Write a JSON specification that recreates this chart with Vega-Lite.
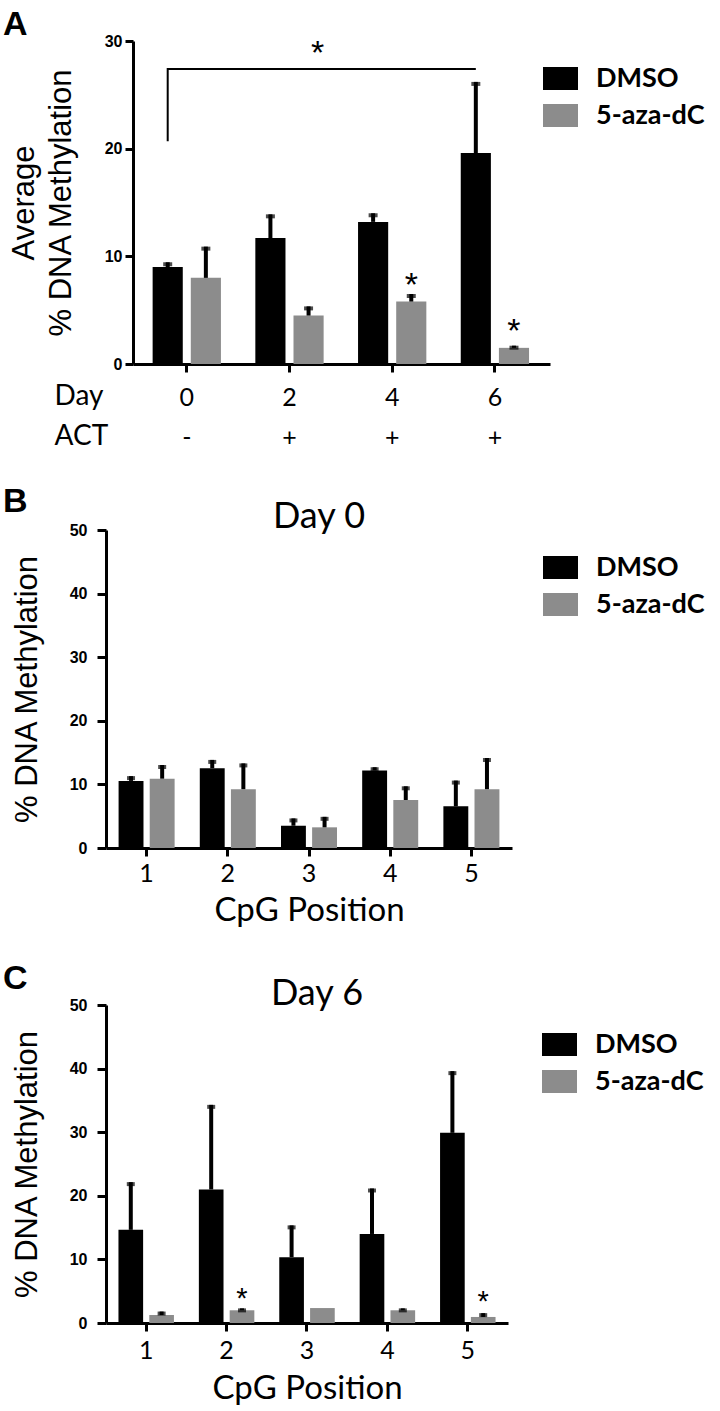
{
  "$schema": "https://vega.github.io/schema/vega-lite/v6.json",
  "padding": {"left": 3, "top": 8, "right": 0, "bottom": 0},
  "background": "white",
  "columns": 1,
  "spacing": 35,
  "config": {
    "view": {"stroke": null},
    "axis": {"grid": false, "domainColor": "#000", "tickColor": "#000", "labelColor": "#000", "titleColor": "#000", "domainWidth": 3, "tickWidth": 3},
    "legend": {"padding": 0},
    "title": {"color": "#000"}
  },
  "resolve": {"scale": {"x": "independent", "y": "independent", "color": "independent", "xOffset": "independent"}, "legend": {"color": "independent"}, "axis": {"x": "independent", "y": "independent"}},
  "concat": [
    {
      "title": {"text": "A", "anchor": "start", "frame": "group", "font": "Liberation Sans", "fontSize": 34, "fontWeight": "bold", "dx": -103, "offset": -9},
      "vconcat": [
        {
          "width": 444,
          "height": 323,
          "data": {"values": [
            {"day": "0", "group": "DMSO", "value": 9.0, "upper": 9.45},
            {"day": "0", "group": "5-aza-dC", "value": 8.0, "upper": 10.9},
            {"day": "2", "group": "DMSO", "value": 11.7, "upper": 13.9},
            {"day": "2", "group": "5-aza-dC", "value": 4.5, "upper": 5.35},
            {"day": "4", "group": "DMSO", "value": 13.2, "upper": 14.0},
            {"day": "4", "group": "5-aza-dC", "value": 5.8, "upper": 6.5},
            {"day": "6", "group": "DMSO", "value": 19.6, "upper": 26.2},
            {"day": "6", "group": "5-aza-dC", "value": 1.5, "upper": 1.7}
          ]},
          "encoding": {
            "x": {"field": "day", "type": "nominal", "scale": {"domain": ["0", "2", "4", "6"], "paddingInner": 0.335, "paddingOuter": 0.329, "align": 0.69},
              "axis": {"title": ["Day", "ACT"], "titleFont": "Lato", "titleFontSize": 28, "titleFontWeight": "normal", "titleLineHeight": 40, "titleAlign": "left", "titleAnchor": "start", "titleX": -52, "titleY": 18, "titleBaseline": "top",
                "labelExpr": "[datum.label, datum.label == '0' ? '-' : '+']", "labelFont": "Lato", "labelFontSize": 25, "labelLineHeight": 40, "labelPadding": 13, "labelBaseline": "top", "labelAngle": 0, "tickSize": 8, "domainDash": [0, 27, 600]}},
            "xOffset": {"field": "group", "type": "nominal", "scale": {"domain": ["DMSO", "5-aza-dC"], "paddingInner": 0.21, "paddingOuter": 0}}
          },
          "layer": [
            {
              "mark": {"type": "bar"},
              "encoding": {
                "y": {"field": "value", "type": "quantitative", "scale": {"domain": [0, 30]},
                  "axis": {"values": [0, 10, 20, 30], "offset": -27, "title": ["Average", "% DNA Methylation"], "titleFont": "Liberation Sans", "titleFontSize": 31, "titleFontWeight": "normal", "titleLineHeight": 37, "titlePadding": 27,
                    "labelFont": "Liberation Sans", "labelFontSize": 16, "labelFontWeight": "bold", "labelPadding": 3, "tickSize": 8}},
                "color": {"field": "group", "type": "nominal", "scale": {"domain": ["DMSO", "5-aza-dC"], "range": ["#000000", "#8c8c8c"]},
                  "legend": {"orient": "none", "legendX": 437, "legendY": 20, "title": null, "symbolType": "M-1,-0.657H1V0.657H-1Z", "symbolSize": 1225, "symbolStrokeWidth": 0, "labelFont": "Lato", "labelFontWeight": "bold", "labelFontSize": 27, "labelOffset": 18, "rowPadding": 6, "labelColor": "#000"}}
              }
            },
            {
              "mark": {"type": "rule", "strokeWidth": 4, "color": "#000"},
              "encoding": {"y": {"field": "value", "type": "quantitative"}, "y2": {"field": "upper"}}
            },
            {
              "mark": {"type": "tick", "thickness": 4, "size": 9, "color": "#000", "yOffset": 2},
              "encoding": {"y": {"field": "upper", "type": "quantitative"}}
            },
            {
              "data": {"values": [
                {"day": "0", "group": "DMSO", "y": 20.7, "k": 1},
                {"day": "0", "group": "DMSO", "y": 27.4, "k": 2},
                {"day": "6", "group": "DMSO", "y": 27.4, "k": 3}
              ]},
              "mark": {"type": "line", "strokeWidth": 2, "color": "#000"},
              "encoding": {"y": {"field": "y", "type": "quantitative"}, "order": {"field": "k"}}
            },
            {
              "data": {"values": [
                {"day": "4", "group": "5-aza-dC", "y": 8.2, "t": "*"},
                {"day": "6", "group": "5-aza-dC", "y": 3.9, "t": "*"}
              ]},
              "mark": {"type": "text", "font": "Liberation Sans", "fontSize": 34, "baseline": "alphabetic", "dy": 20, "color": "#000"},
              "encoding": {"y": {"field": "y", "type": "quantitative"}, "text": {"field": "t"}}
            },
            {
              "data": {"values": [
                {"day": "2", "group": "5-aza-dC", "y": 29.7, "t": "*"}
              ]},
              "mark": {"type": "text", "font": "Liberation Sans", "fontSize": 34, "baseline": "alphabetic", "dy": 20, "dx": 9, "color": "#000"},
              "encoding": {"y": {"field": "y", "type": "quantitative"}, "text": {"field": "t"}}
            }
          ]
        }
      ]
    },
    {
      "title": {"text": "B", "anchor": "start", "frame": "group", "font": "Liberation Sans", "fontSize": 34, "fontWeight": "bold", "dx": -103, "offset": -20},
      "vconcat": [
        {
          "width": 406,
          "height": 318,
          "title": {"text": "Day 0", "font": "Lato", "fontSize": 36, "fontWeight": "normal", "anchor": "middle", "frame": "group", "dx": 10, "offset": -14},
          "data": {"values": [
            {"pos": "1", "group": "DMSO", "value": 10.55, "upper": 11.3},
            {"pos": "1", "group": "5-aza-dC", "value": 10.9, "upper": 13.05},
            {"pos": "2", "group": "DMSO", "value": 12.55, "upper": 13.85},
            {"pos": "2", "group": "5-aza-dC", "value": 9.25, "upper": 13.3},
            {"pos": "3", "group": "DMSO", "value": 3.5, "upper": 4.65},
            {"pos": "3", "group": "5-aza-dC", "value": 3.25, "upper": 4.9},
            {"pos": "4", "group": "DMSO", "value": 12.2, "upper": 12.7},
            {"pos": "4", "group": "5-aza-dC", "value": 7.55, "upper": 9.7},
            {"pos": "5", "group": "DMSO", "value": 6.55, "upper": 10.6},
            {"pos": "5", "group": "5-aza-dC", "value": 9.25, "upper": 14.15}
          ]},
          "encoding": {
            "x": {"field": "pos", "type": "nominal", "scale": {"domain": ["1", "2", "3", "4", "5"], "paddingInner": 0.31, "paddingOuter": 0.155},
              "axis": {"title": "CpG Position", "titleFont": "Lato", "titleFontSize": 33, "titleFontWeight": "normal", "titlePadding": 8, "labelFont": "Lato", "labelFontSize": 25, "labelPadding": 5, "labelAngle": 0, "tickSize": 8}},
            "xOffset": {"field": "group", "type": "nominal", "scale": {"domain": ["DMSO", "5-aza-dC"], "paddingInner": 0.2, "paddingOuter": 0}}
          },
          "layer": [
            {
              "mark": {"type": "bar"},
              "encoding": {
                "y": {"field": "value", "type": "quantitative", "scale": {"domain": [0, 50]},
                  "axis": {"values": [0, 10, 20, 30, 40, 50], "title": "% DNA Methylation", "titleFont": "Liberation Sans", "titleFontSize": 31, "titleFontWeight": "normal", "titlePadding": 26,
                    "labelFont": "Liberation Sans", "labelFontSize": 16, "labelFontWeight": "bold", "labelPadding": 10, "tickSize": 9}},
                "color": {"field": "group", "type": "nominal", "scale": {"domain": ["DMSO", "5-aza-dC"], "range": ["#000000", "#8c8c8c"]},
                  "legend": {"orient": "none", "legendX": 437, "legendY": 20, "title": null, "symbolType": "M-1,-0.657H1V0.657H-1Z", "symbolSize": 1225, "symbolStrokeWidth": 0, "labelFont": "Lato", "labelFontWeight": "bold", "labelFontSize": 27, "labelOffset": 18, "rowPadding": 6, "labelColor": "#000"}}
              }
            },
            {
              "mark": {"type": "rule", "strokeWidth": 4, "color": "#000"},
              "encoding": {"y": {"field": "value", "type": "quantitative"}, "y2": {"field": "upper"}}
            },
            {
              "mark": {"type": "tick", "thickness": 4, "size": 8, "color": "#000", "yOffset": 2},
              "encoding": {"y": {"field": "upper", "type": "quantitative"}}
            }
          ]
        }
      ]
    },
    {
      "title": {"text": "C", "anchor": "start", "frame": "group", "font": "Liberation Sans", "fontSize": 34, "fontWeight": "bold", "dx": -103, "offset": -20},
      "vconcat": [
        {
          "width": 402,
          "height": 318,
          "title": {"text": "Day 6", "font": "Lato", "fontSize": 36, "fontWeight": "normal", "anchor": "middle", "frame": "group", "dx": 10, "offset": -16},
          "data": {"values": [
            {"pos": "1", "group": "DMSO", "value": 14.65, "upper": 22.15},
            {"pos": "1", "group": "5-aza-dC", "value": 1.25, "upper": 1.8},
            {"pos": "2", "group": "DMSO", "value": 21.0, "upper": 34.3},
            {"pos": "2", "group": "5-aza-dC", "value": 2.0, "upper": 2.3},
            {"pos": "3", "group": "DMSO", "value": 10.35, "upper": 15.35},
            {"pos": "3", "group": "5-aza-dC", "value": 2.35, "upper": null},
            {"pos": "4", "group": "DMSO", "value": 14.0, "upper": 21.15},
            {"pos": "4", "group": "5-aza-dC", "value": 2.0, "upper": 2.3},
            {"pos": "5", "group": "DMSO", "value": 29.9, "upper": 39.6},
            {"pos": "5", "group": "5-aza-dC", "value": 0.95, "upper": 1.55}
          ]},
          "encoding": {
            "x": {"field": "pos", "type": "nominal", "scale": {"domain": ["1", "2", "3", "4", "5"], "paddingInner": 0.31, "paddingOuter": 0.155},
              "axis": {"title": "CpG Position", "titleFont": "Lato", "titleFontSize": 33, "titleFontWeight": "normal", "titlePadding": 9, "labelFont": "Lato", "labelFontSize": 25, "labelPadding": 7, "labelAngle": 0, "tickSize": 8}},
            "xOffset": {"field": "group", "type": "nominal", "scale": {"domain": ["DMSO", "5-aza-dC"], "paddingInner": 0.2, "paddingOuter": 0}}
          },
          "layer": [
            {
              "mark": {"type": "bar"},
              "encoding": {
                "y": {"field": "value", "type": "quantitative", "scale": {"domain": [0, 50]},
                  "axis": {"values": [0, 10, 20, 30, 40, 50], "title": "% DNA Methylation", "titleFont": "Liberation Sans", "titleFontSize": 31, "titleFontWeight": "normal", "titlePadding": 26,
                    "labelFont": "Liberation Sans", "labelFontSize": 16, "labelFontWeight": "bold", "labelPadding": 10, "tickSize": 9}},
                "color": {"field": "group", "type": "nominal", "scale": {"domain": ["DMSO", "5-aza-dC"], "range": ["#000000", "#8c8c8c"]},
                  "legend": {"orient": "none", "legendX": 436, "legendY": 22, "title": null, "symbolType": "M-1,-0.657H1V0.657H-1Z", "symbolSize": 1225, "symbolStrokeWidth": 0, "labelFont": "Lato", "labelFontWeight": "bold", "labelFontSize": 27, "labelOffset": 18, "rowPadding": 6, "labelColor": "#000"}}
              }
            },
            {
              "transform": [{"filter": "datum.upper != null"}],
              "mark": {"type": "rule", "strokeWidth": 4, "color": "#000"},
              "encoding": {"y": {"field": "value", "type": "quantitative"}, "y2": {"field": "upper"}}
            },
            {
              "transform": [{"filter": "datum.upper != null"}],
              "mark": {"type": "tick", "thickness": 4, "size": 8, "color": "#000", "yOffset": 2},
              "encoding": {"y": {"field": "upper", "type": "quantitative"}}
            },
            {
              "data": {"values": [
                {"pos": "2", "group": "5-aza-dC", "y": 5.1, "t": "*"},
                {"pos": "5", "group": "5-aza-dC", "y": 4.6, "t": "*"}
              ]},
              "mark": {"type": "text", "font": "Liberation Sans", "fontSize": 29, "baseline": "alphabetic", "dy": 17, "color": "#000"},
              "encoding": {"y": {"field": "y", "type": "quantitative"}, "text": {"field": "t"}}
            }
          ]
        }
      ]
    }
  ]
}
